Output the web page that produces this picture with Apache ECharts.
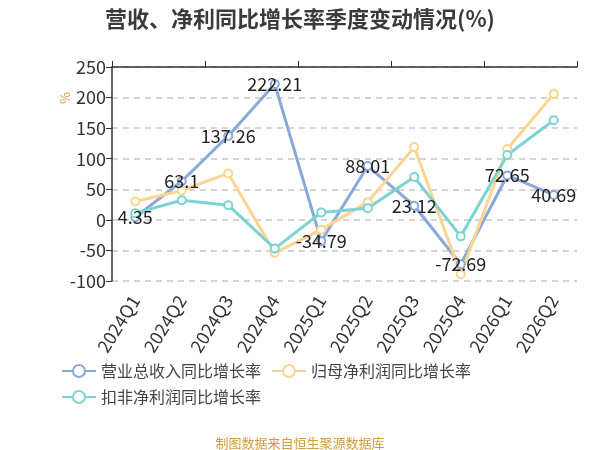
<!DOCTYPE html>
<html>
<head>
<meta charset="utf-8">
<script src="https://cdn.jsdelivr.net/npm/echarts@6/dist/echarts.min.js"></script>
<style>
html, body { margin: 0; padding: 0; background: #fff; }
#main { width: 600px; height: 450px; }
</style>
</head>
<body>
<div id="main"></div>
<script>
var quarters = ['2024Q1', '2024Q2', '2024Q3', '2024Q4', '2025Q1', '2025Q2', '2025Q3', '2025Q4', '2026Q1', '2026Q2'];
var revenueGrowth = [4.35, 63.1, 137.26, 222.21, -34.79, 88.01, 23.12, -72.69, 72.65, 40.69];
var netProfitGrowth = [30, 48, 76, -54, -16, 29, 119, -89, 116, 206];
var deductedProfitGrowth = [11, 32, 24, -47, 12, 19, 70, -27, 106, 163];
var yTicks = { min: -100, max: 250, interval: 50 };

var fontName = 'Noto Sans CJK SC';
var myChart = echarts.init(document.getElementById('main'));

function lineSeries(name, data, color, showLabel) {
    return {
        name: name,
        type: 'line',
        data: data,
        symbol: 'emptyCircle',
        symbolSize: 8,
        lineStyle: { width: 3, color: color },
        itemStyle: { color: color, borderWidth: 1.5 },
        label: {
            show: showLabel,
            position: 'inside',
            color: '#222',
            fontSize: 18,
            fontFamily: fontName
        }
    };
}

option = {
    animation: false,
    title: [{
        text: '营收、净利同比增长率季度变动情况(%)',
        left: 'center',
        top: 3,
        textStyle: { fontSize: 22, fontWeight: 'bold', color: '#3a3a3a', fontFamily: fontName }
    }, {
        text: '制图数据来自恒生聚源数据库',
        left: 'center',
        top: 432,
        textStyle: { fontSize: 13, fontWeight: 'normal', color: '#d29b3c', fontFamily: fontName }
    }],
    grid: { left: 112, right: 23, top: 67, bottom: 169 },
    legend: {
        left: 56,
        top: 358,
        width: 480,
        itemWidth: 34,
        itemHeight: 15,
        itemGap: 10,
        textStyle: { fontSize: 16, color: '#444', fontFamily: fontName }
    },
    graphic: [{
        type: 'text',
        left: 58,
        top: 92,
        rotation: -Math.PI / 2,
        style: { text: '%', fontSize: 13, fill: '#d29b3c', fontFamily: fontName }
    }],
    xAxis: [{
        type: 'category',
        data: quarters,
        position: 'bottom',
        axisLine: { show: false },
        axisTick: { show: false },
        axisLabel: { rotate: 58, fontSize: 18, color: '#333', margin: 16, fontFamily: fontName, interval: 0 }
    }, {
        type: 'category',
        data: quarters,
        axisLine: { onZero: true, lineStyle: { color: '#333', width: 1.5 } },
        axisTick: { show: true, length: 6, lineStyle: { color: '#333' } },
        axisLabel: { show: false }
    }],
    yAxis: {
        type: 'value',
        min: yTicks.min,
        max: yTicks.max,
        interval: yTicks.interval,
        axisLine: { show: true, lineStyle: { color: '#333', width: 1.5 } },
        axisTick: { show: true, length: 6, lineStyle: { color: '#333' } },
        axisLabel: { fontSize: 18, color: '#333', margin: 6, fontFamily: fontName },
        splitLine: { lineStyle: { type: [6, 5], color: '#c8c8c8', width: 1.5 } }
    },
    series: [
        lineSeries('营业总收入同比增长率', revenueGrowth, '#8aa8da', true),
        lineSeries('归母净利润同比增长率', netProfitGrowth, '#fdd592', false),
        lineSeries('扣非净利润同比增长率', deductedProfitGrowth, '#7dd3d1', false)
    ]
};

myChart.setOption(option);
</script>
</body>
</html>
